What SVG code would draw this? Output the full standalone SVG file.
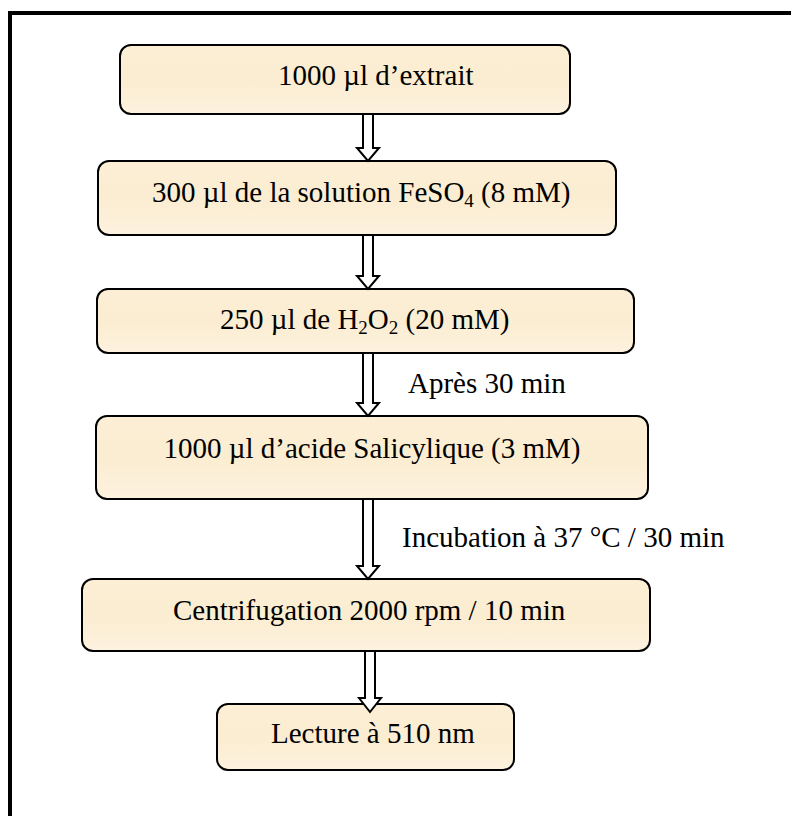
<svg xmlns="http://www.w3.org/2000/svg" width="791" height="816" viewBox="0 0 791 816">
<defs>
<linearGradient id="cream" x1="0" y1="0" x2="0" y2="1">
<stop offset="0" stop-color="#FCEFD6"/>
<stop offset="0.5" stop-color="#FBEDD1"/>
<stop offset="1" stop-color="#FDF2DF"/>
</linearGradient>
</defs>
<style>
.box{fill:url(#cream);stroke:#000;stroke-width:2}
.t{font-family:"Liberation Serif","Times New Roman",serif;font-size:29px;fill:#000}
.arr{fill:#fff;stroke:#000;stroke-width:2;stroke-linejoin:miter}
.frame{fill:none;stroke:#000;stroke-width:4}
</style>
<rect width="791" height="816" fill="#fff"/>
<path class="frame" d="M10,830 V13 H800"/>
<g id="n1"><rect class="box" x="120" y="45" width="450" height="69" rx="11"/><text class="t" x="278" y="85">1000 µl d’extrait</text></g>
<g id="n2"><rect class="box" x="98" y="161" width="518" height="74" rx="11"/><text class="t" x="152" y="202">300 µl de la solution FeSO<tspan font-size="19" dy="5">4</tspan><tspan dy="-5"> (8 mM)</tspan></text></g>
<g id="n3"><rect class="box" x="97" y="289" width="537" height="64" rx="11"/><text class="t" x="220" y="329">250 µl de H<tspan font-size="19" dy="5">2</tspan><tspan dy="-5">O</tspan><tspan font-size="19" dy="5">2</tspan><tspan dy="-5"> (20 mM)</tspan></text></g>
<g id="n4"><rect class="box" x="96" y="416" width="552" height="83" rx="11"/><text class="t" x="372" y="458" text-anchor="middle">1000 µl d’acide Salicylique (3 mM)</text></g>
<g id="n5"><rect class="box" x="82" y="579" width="568" height="72" rx="11"/><text class="t" x="173" y="620">Centrifugation 2000 rpm / 10 min</text></g>
<g id="n6"><rect class="box" x="217" y="704" width="297" height="66" rx="11"/><text class="t" x="271" y="743">Lecture à 510 nm</text></g>
<g id="connectors">
<polygon class="arr" points="363,114 373,114 373,148 379,148 368,161 357,148 363,148"/>
<polygon class="arr" points="363,235 373,235 373,276 379,276 368,289 357,276 363,276"/>
<polygon class="arr" points="363,353 373,353 373,403 379,403 368,416 357,403 363,403"/>
<polygon class="arr" points="363,499 373,499 373,566 379,566 368,579 357,566 363,566"/>
<polygon class="arr" points="365,651 375,651 375,698 381,698 370,712 359,698 365,698"/>
<text class="t" x="408" y="393">Après 30 min</text>
<text class="t" x="402" y="547">Incubation à 37 °C / 30 min</text>
</g>
</svg>
